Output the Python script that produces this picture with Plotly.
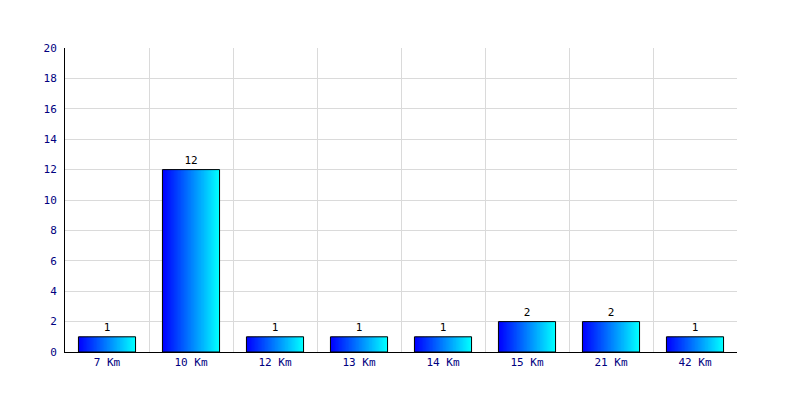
import plotly.graph_objects as go

categories = ["7 Km", "10 Km", "12 Km", "13 Km", "14 Km", "15 Km", "21 Km", "42 Km"]
values = [1, 12, 1, 1, 1, 2, 2, 1]
y_ticks = list(range(0, 21, 2))

BAR_W = 0.68
N = 40

def lerp(c1, c2, t):
    return "rgb(%d,%d,%d)" % tuple(round(a + (b - a) * t) for a, b in zip(c1, c2))

left_c = (0, 0, 255)
right_c = (0, 255, 255)

fig = go.Figure()
step = BAR_W / N
for i in range(N):
    t = i / (N - 1)
    w = step * 1.8 if i < N - 1 else step
    fig.add_trace(go.Bar(
        x=categories, y=values,
        width=w, offset=-BAR_W / 2 + i * step,
        marker=dict(color=lerp(left_c, right_c, t), line=dict(width=0)),
        hoverinfo="skip", showlegend=False,
    ))

fig.add_trace(go.Bar(
    x=categories, y=values, width=BAR_W, offset=-BAR_W / 2,
    marker=dict(color="rgba(0,0,0,0)", line=dict(color="black", width=1)),
    text=[str(v) for v in values], textposition="outside",
    textfont=dict(family="DejaVu Sans Mono", size=11, color="black"),
    cliponaxis=False, showlegend=False,
))

fig.update_layout(
    width=800, height=400,
    margin=dict(l=57, r=71, t=40, b=56),
    barmode="overlay",
    paper_bgcolor="white", plot_bgcolor="white",
    font=dict(family="DejaVu Sans Mono", size=11, color="#000080"),
)
fig.update_xaxes(
    type="category", range=[-0.5, 7.5], tickson="boundaries",
    showgrid=True, gridcolor="#dadada", gridwidth=1,
    showline=True, linecolor="black", linewidth=1,
    ticks="", tickfont=dict(family="DejaVu Sans Mono", size=11, color="#000080"),
    zeroline=False,
)
fig.update_yaxes(
    range=[0, 20], tickvals=y_ticks,
    showgrid=True, gridcolor="#dadada", gridwidth=1,
    showline=True, linecolor="black", linewidth=1,
    ticks="", ticklabelstandoff=5,
    tickfont=dict(family="DejaVu Sans Mono", size=11, color="#000080"),
    zeroline=False,
)

fig.write_html("out.html")
